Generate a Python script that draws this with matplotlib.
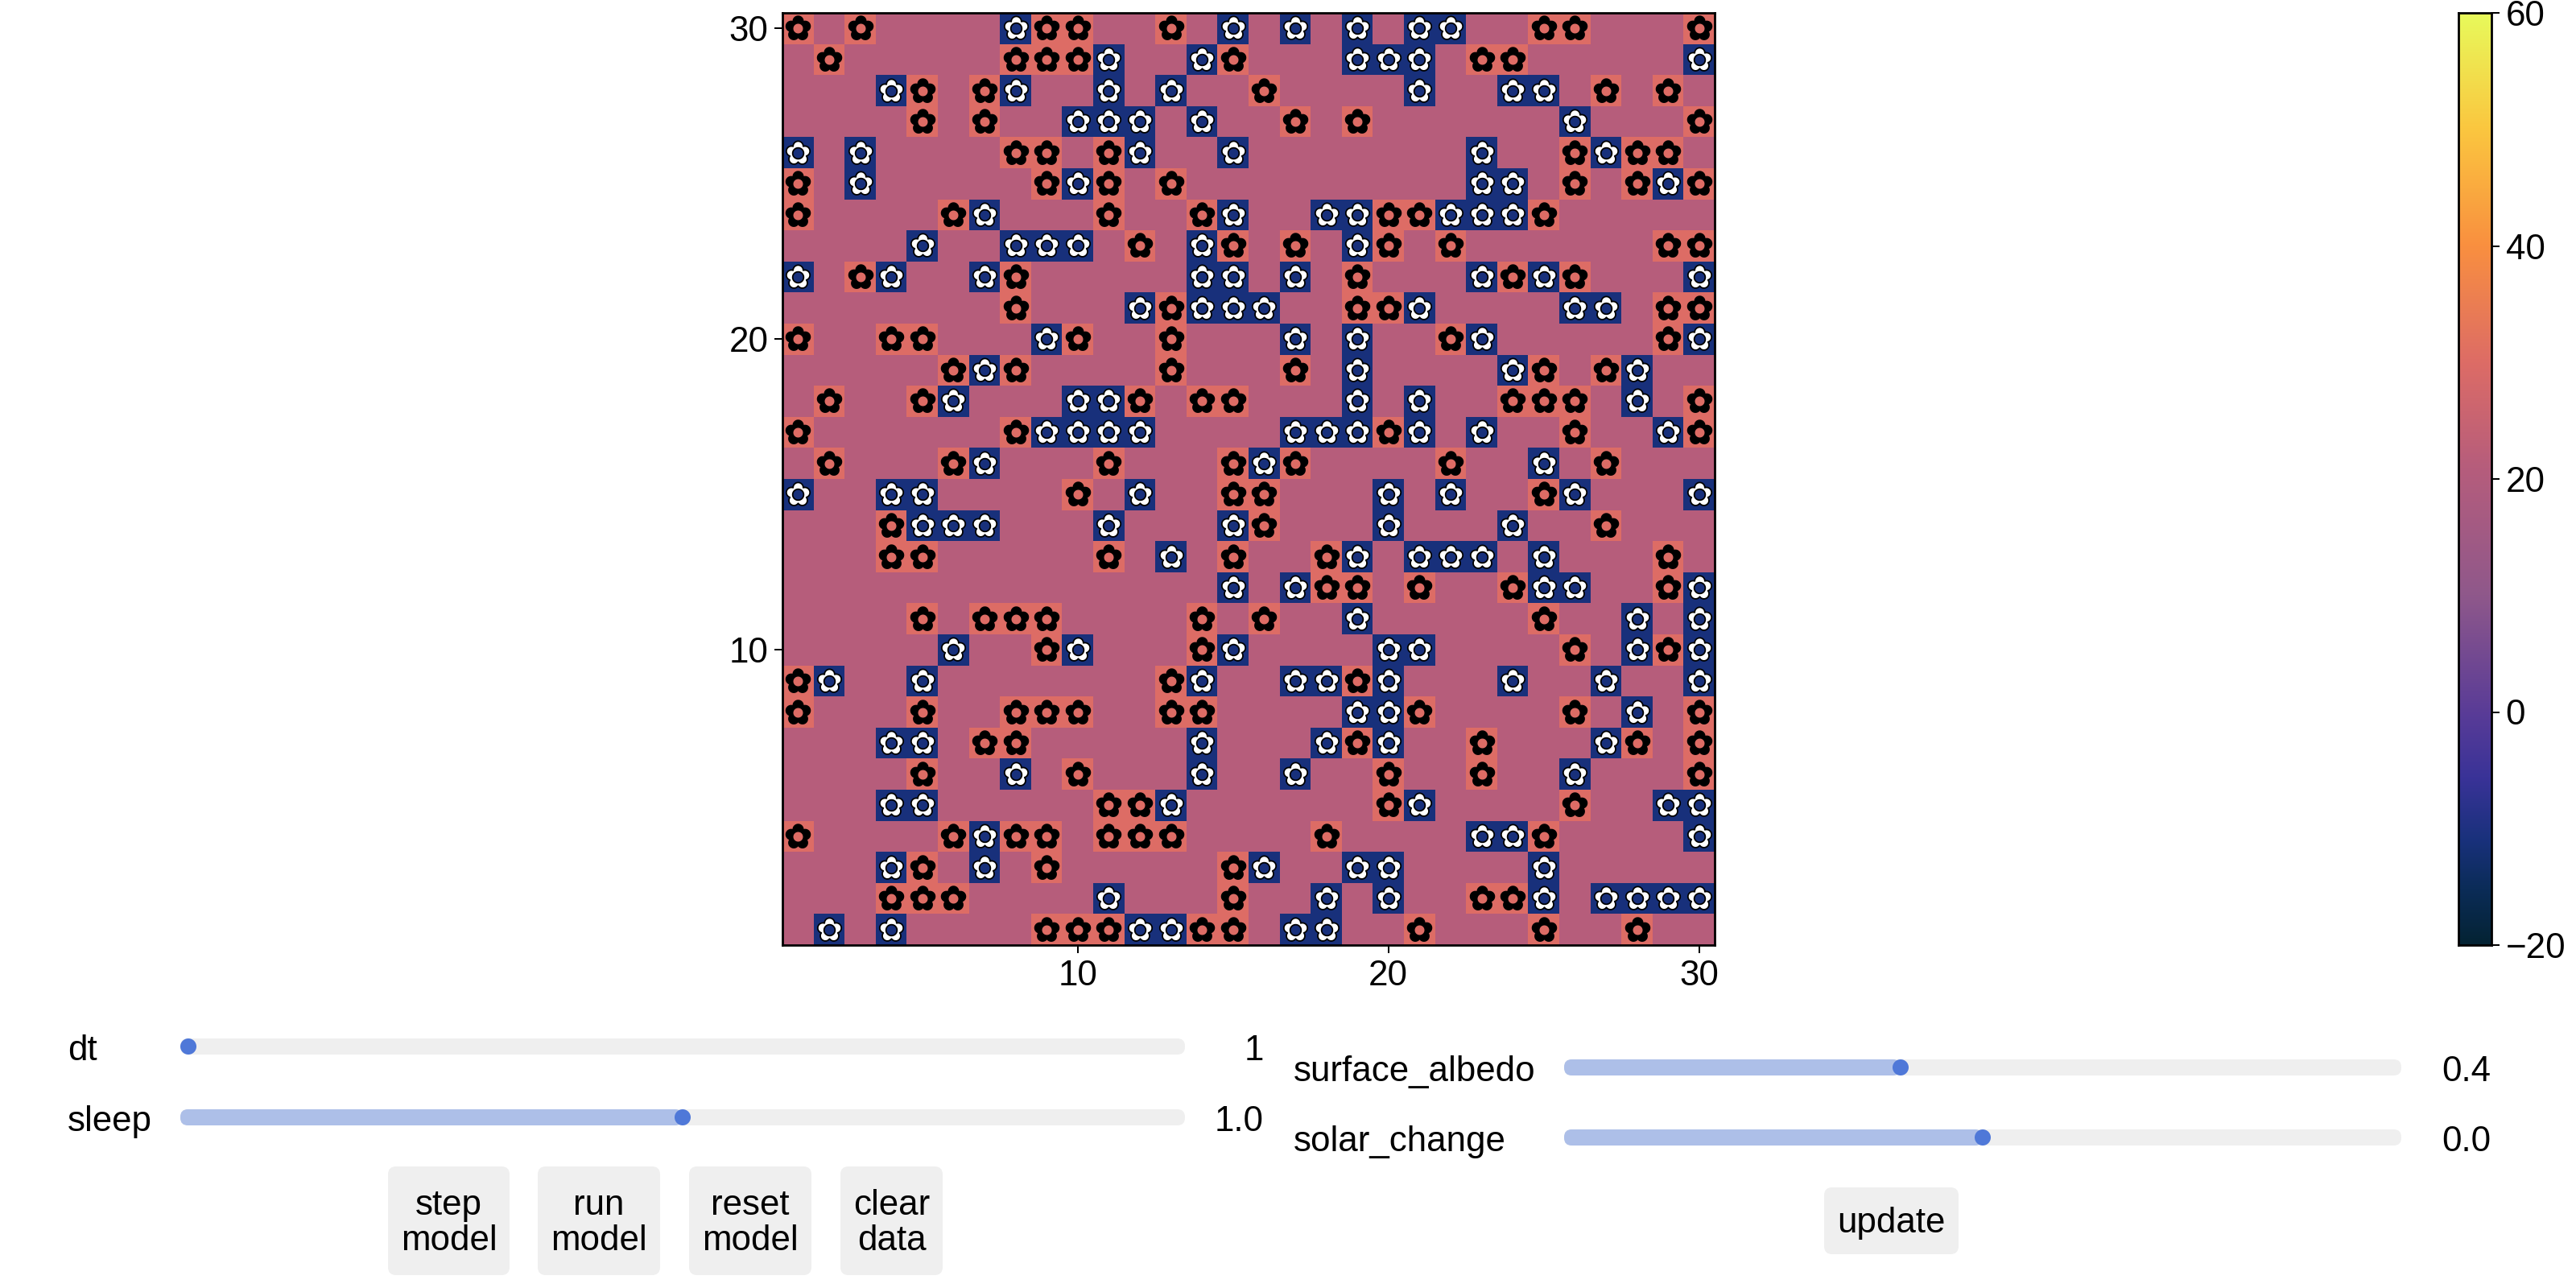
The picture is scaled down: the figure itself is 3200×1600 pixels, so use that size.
import numpy as np
import matplotlib
matplotlib.use("Agg")
import matplotlib.pyplot as plt
from matplotlib.colors import LinearSegmentedColormap
from matplotlib.patches import FancyBboxPatch, Ellipse
from matplotlib.path import Path

plt.rcParams['font.family'] = ['Liberation Sans', 'DejaVu Sans']

# columns with a white daisy / black daisy, rows 30 down to 1
rows = list(range(30, 0, -1))
white_cols = [
    [8, 15, 17, 19, 21, 22],
    [11, 14, 19, 20, 21, 30],
    [4, 8, 11, 13, 21, 24, 25],
    [10, 11, 12, 14, 26],
    [1, 3, 12, 15, 23, 27],
    [3, 10, 23, 24, 29],
    [7, 15, 18, 19, 22, 23, 24],
    [5, 8, 9, 10, 14, 19],
    [1, 4, 7, 14, 15, 17, 23, 25, 30],
    [12, 14, 15, 16, 21, 26, 27],
    [9, 17, 19, 23, 30],
    [7, 19, 24, 28],
    [6, 10, 11, 19, 21, 28],
    [9, 10, 11, 12, 17, 18, 19, 21, 23, 29],
    [7, 16, 25],
    [1, 4, 5, 12, 20, 22, 26, 30],
    [5, 6, 7, 11, 15, 20, 24],
    [13, 19, 21, 22, 23, 25],
    [15, 17, 25, 26, 30],
    [19, 28, 30],
    [6, 10, 15, 20, 21, 28, 30],
    [2, 5, 14, 17, 18, 20, 24, 27, 30],
    [19, 20, 28],
    [4, 5, 14, 18, 20, 27],
    [8, 14, 17, 26],
    [4, 5, 13, 21, 29, 30],
    [7, 23, 24, 30],
    [4, 7, 16, 19, 20, 25],
    [11, 18, 20, 25, 27, 28, 29, 30],
    [2, 4, 12, 13, 17, 18],
]
black_cols = [
    [1, 3, 9, 10, 13, 25, 26, 30],
    [2, 8, 9, 10, 15, 23, 24],
    [5, 7, 16, 27, 29],
    [5, 7, 17, 19, 30],
    [8, 9, 11, 26, 28, 29],
    [1, 9, 11, 13, 26, 28, 30],
    [1, 6, 11, 14, 20, 21, 25],
    [12, 15, 17, 20, 22, 29, 30],
    [3, 8, 19, 24, 26],
    [8, 13, 19, 20, 29, 30],
    [1, 4, 5, 10, 13, 22, 29],
    [6, 8, 13, 17, 25, 27],
    [2, 5, 12, 14, 15, 24, 25, 26, 30],
    [1, 8, 20, 26, 30],
    [2, 6, 11, 15, 17, 22, 27],
    [10, 15, 16, 25],
    [4, 16, 27],
    [4, 5, 11, 15, 18, 29],
    [18, 19, 21, 24, 29],
    [5, 7, 8, 9, 14, 16, 25],
    [9, 14, 26, 29],
    [1, 13, 19],
    [1, 5, 8, 9, 10, 13, 14, 21, 26, 30],
    [7, 8, 19, 23, 28, 30],
    [5, 10, 20, 23, 30],
    [11, 12, 20, 26],
    [1, 6, 8, 9, 11, 12, 13, 18, 25],
    [5, 9, 15],
    [4, 5, 6, 15, 23, 24],
    [9, 10, 11, 14, 15, 21, 25, 28],
]
bare_temp = 21
white_temp = -11
black_temp = 30

ticks = [10, 20, 30]
cbar_ticks = [-20, 0, 20, 40, 60]

left_sliders = ["dt", "sleep"]
left_values = ["1", "1.0"]
left_frac = [0.0, 0.5]
right_sliders = ["surface_albedo", "solar_change"]
right_values = ["0.4", "0.0"]
right_frac = [0.4, 0.5]
left_buttons = ["step\nmodel", "run\nmodel", "reset\nmodel", "clear\ndata"]
right_buttons = ["update"]

thermal = LinearSegmentedColormap.from_list("thermal", [
    (0.0, "#042333"), (0.06, "#0B2C58"), (0.1125, "#19317C"), (0.18, "#3A3398"),
    (0.25, "#5A3C97"), (0.375, "#8F588B"), (0.5125, "#B65D7C"), (0.625, "#DD6C66"),
    (0.75, "#F98F40"), (0.875, "#FBC63F"), (1.0, "#E8FA5B"),
], N=512)

W, H = 3200, 1600
FS = 31.6
fig = plt.figure(figsize=(32, 16), dpi=100)


def px_axes(x0, y0, x1, y1):
    return fig.add_axes([x0 / W, 1 - y1 / H, (x1 - x0) / W, (y1 - y0) / H])


def flower_marker(dist, petal, hole):
    # five-petal outline (union of circles) with a round hole in the middle
    t = np.linspace(0, 2 * np.pi, 301)
    phi = np.mod(t - np.pi / 2 + np.pi / 5, 2 * np.pi / 5) - np.pi / 5
    r = dist * np.cos(phi) + np.sqrt(petal ** 2 - (dist * np.sin(phi)) ** 2)
    outer = np.c_[r * np.cos(t), r * np.sin(t)]
    inner = np.c_[hole * np.cos(-t), hole * np.sin(-t)]
    verts = np.r_[outer, inner]
    codes = np.full(len(verts), Path.LINETO)
    codes[[0, len(outer)]] = Path.MOVETO
    codes[[len(outer) - 1, len(verts) - 1]] = Path.CLOSEPOLY
    return Path(verts, codes), r.max()


def marker_area(radius_px):
    return (2 * radius_px * 0.72) ** 2


# temperature grid
grid = np.full((30, 30), float(bare_temp))
wx, wy, bx, by = [], [], [], []
for r, w, b in zip(rows, white_cols, black_cols):
    for c in w:
        grid[r - 1, c - 1] = white_temp
        wx.append(c)
        wy.append(r)
    for c in b:
        grid[r - 1, c - 1] = black_temp
        bx.append(c)
        by.append(r)

ax = px_axes(972, 16, 2130, 1174)
ax.imshow(grid, origin='lower', extent=(0.5, 30.5, 0.5, 30.5), cmap=thermal,
          vmin=-20, vmax=60, interpolation='nearest', aspect='auto')

black_flower, black_r = flower_marker(9.2, 7.0, 6.0)
white_flower, white_r = flower_marker(8.8, 6.3, 6.8)
ax.scatter(bx, by, marker=black_flower, s=marker_area(black_r), c='black', linewidths=0, zorder=3)
ax.scatter(wx, wy, marker=white_flower, s=marker_area(white_r), c='white', edgecolors='black',
           linewidths=1.3, joinstyle='round', zorder=3)

ax.set_xlim(0.5, 30.5)
ax.set_ylim(0.5, 30.5)
ax.set_xticks(ticks)
ax.set_yticks(ticks)
ax.tick_params(labelsize=FS, length=7.2, width=1.44, pad=5.5)
for s in ax.spines.values():
    s.set_linewidth(2.0)
    s.set_zorder(5)

# colour bar
cax = px_axes(3054, 16, 3095, 1174)
cax.imshow(np.linspace(-20, 60, 512)[:, None], origin='lower', extent=(0, 1, -20, 60),
           cmap=thermal, vmin=-20, vmax=60, aspect='auto')
cax.set_xticks([])
cax.yaxis.tick_right()
cax.set_yticks(cbar_ticks)
cax.set_yticklabels([str(t).replace('-', '\u2212') for t in cbar_ticks])
cax.tick_params(labelsize=FS, length=7.2, width=1.44, pad=5.5)
for s in cax.spines.values():
    s.set_linewidth(2.0)

# widgets drawn in pixel coordinates
ui = fig.add_axes([0, 0, 1, 1], zorder=-1)
ui.set_xlim(0, W)
ui.set_ylim(H, 0)
ui.axis('off')


def rbox(x0, y0, x1, y1, radius, color):
    ui.add_patch(FancyBboxPatch((x0 + radius, y0 + radius), x1 - x0 - 2 * radius, y1 - y0 - 2 * radius,
                                boxstyle=f"round,pad={radius},rounding_size={radius}",
                                fc=color, ec='none'))


def slider(name, value, frac, y, lab_x, x0, x1, val_x):
    rbox(x0, y - 10, x1, y + 10, 9.5, '#EFEFEF')
    knob = x0 + 10 + frac * (x1 - x0 - 20)
    if frac > 0:
        rbox(x0, y - 10, knob, y + 10, 9.5, '#ADBFE8')
    ui.add_patch(Ellipse((knob, y), 20, 20, fc='#4F78D8', ec='none'))
    ui.text(lab_x, y + 1, name, fontsize=FS, ha='left', va='center_baseline')
    ui.text(val_x, y + 1, value, fontsize=FS, ha='right', va='center_baseline')


def button(label, x0, x1, y0, y1):
    rbox(x0, y0, x1, y1, 10, '#EFEFEF')
    ui.text((x0 + x1) / 2, (y0 + y1) / 2 + 3, label, fontsize=FS, ha='center', va='center', linespacing=1.12)


for name, val, fr, y in zip(left_sliders, left_values, left_frac, [1300, 1388]):
    slider(name, val, fr, y, 84, 224, 1472, 1570)
for name, val, fr, y in zip(right_sliders, right_values, right_frac, [1326, 1413]):
    slider(name, val, fr, y, 1607, 1943, 2983, 3094)
for label, (x0, x1) in zip(left_buttons, [(482, 633), (668, 820), (856, 1008), (1044, 1171)]):
    button(label, x0, x1, 1449, 1584)
for label, (x0, x1) in zip(right_buttons, [(2266, 2433)]):
    button(label, x0, x1, 1475, 1558)

fig.savefig("out.png", dpi=100)
